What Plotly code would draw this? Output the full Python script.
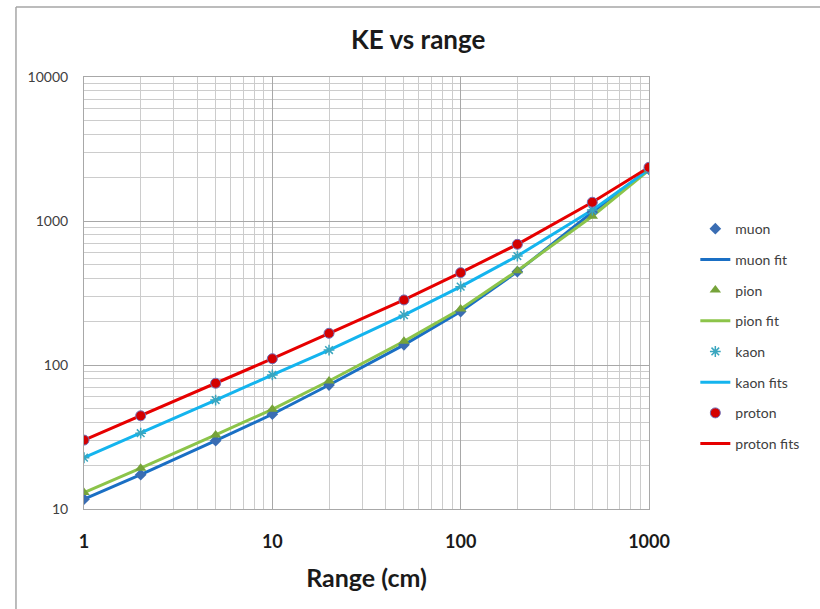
import plotly.graph_objects as go

# Kinetic energy vs range for several particles (log-log)
range_cm = [1, 2, 5, 10, 20, 50, 100, 200, 500, 1000]

muon = [11.7, 17.3, 29.8, 45.5, 72.6, 138, 235, 445, 1150, 2280]
pion = [13.0, 19.2, 32.7, 49.2, 77.4, 146, 245, 452, 1080, 2260]
kaon = [22.7, 33.6, 57.1, 85.3, 127, 222, 350, 571, 1190, 2280]
proton = [30.1, 44.4, 74.7, 110.6, 166, 283, 438, 689, 1350, 2360]

# fitted curves evaluated at the same ranges
muon_fit = muon
pion_fit = pion
kaon_fit = kaon
proton_fit = proton

x_ticks = [1, 10, 100, 1000]
x_ticktext = ["1", "10", "100", "1000"]
y_ticks = [10, 100, 1000, 10000]
y_ticktext = ["10", "100", "1000", "10000"]

FONT = "Lato"

fig = go.Figure()

# fit lines (drawn underneath the markers)
fits = [
    ("muon fit", muon_fit, "#1a6fc4", 2),
    ("pion fit", pion_fit, "#8cc44a", 4),
    ("kaon fits", kaon_fit, "#14b4ee", 6),
    ("proton fits", proton_fit, "#e60000", 8),
]
for name, ys, color, rank in fits:
    fig.add_trace(go.Scatter(
        x=range_cm, y=ys, mode="lines", name=name,
        line=dict(color=color, width=3),
        legendgroup=name, legendrank=rank,
    ))

points = [
    ("muon", muon, dict(symbol="diamond", size=9, color="#3a6db3"), 1),
    ("pion", pion, dict(symbol="triangle-up", size=10, color="#76a33a"), 3),
    ("kaon", kaon, dict(symbol="asterisk-open", size=9, color="#3aa6bf",
                        line=dict(color="#3aa6bf", width=1.5)), 5),
    ("proton", proton, dict(symbol="circle", size=10, color="#d40000",
                            line=dict(color="#7070b8", width=1)), 7),
]
for name, ys, marker, rank in points:
    fig.add_trace(go.Scatter(
        x=range_cm, y=ys, mode="markers", name=name,
        marker=marker, legendgroup=name, legendrank=rank,
    ))

# outer chart frame
fig.add_shape(type="line", xref="paper", yref="paper",
              x0=-0.1204, x1=1.5, y0=1.162, y1=1.162,
              line=dict(color="#a6a6a6", width=1.5))
fig.add_shape(type="line", xref="paper", yref="paper",
              x0=-0.1204, x1=-0.1204, y0=1.162, y1=-0.3,
              line=dict(color="#a6a6a6", width=1.5))

fig.update_layout(
    width=820, height=609,
    margin=dict(l=84, r=171, t=77, b=100),
    paper_bgcolor="white", plot_bgcolor="white",
    font=dict(family=FONT, color="#404040"),
    title=dict(text="KE vs range", x=0.51, xanchor="center",
               y=1 - 40 / 609, yanchor="middle",
               font=dict(family=FONT, size=26, color="#1a1a1a", weight="bold")),
    showlegend=True,
    legend=dict(x=1.082, y=0.685, xanchor="left", yanchor="top",
                font=dict(family=FONT, size=14, color="#404040"),
                tracegroupgap=9.5, traceorder="grouped",
                bgcolor="rgba(0,0,0,0)"),
)

fig.update_xaxes(
    type="log", range=[0, 3],
    tickvals=x_ticks, ticktext=x_ticktext,
    tickfont=dict(family=FONT, size=18, color="#1a1a1a", weight="bold"),
    ticklabelstandoff=16,
    showgrid=True, gridcolor="#a8a8a8", gridwidth=1,
    minor=dict(showgrid=True, gridcolor="#cccccc", gridwidth=1, dtick="D1"),
    showline=True, linecolor="#a8a8a8", mirror=True,
    zeroline=False,
    title=dict(text="Range (cm)", standoff=18,
               font=dict(family=FONT, size=25, color="#1a1a1a", weight="bold")),
)
fig.update_yaxes(
    type="log", range=[1, 4],
    tickvals=y_ticks, ticktext=y_ticktext,
    tickfont=dict(family=FONT, size=14, color="#404040"),
    ticklabelstandoff=12,
    showgrid=True, gridcolor="#a8a8a8", gridwidth=1,
    minor=dict(showgrid=True, gridcolor="#cccccc", gridwidth=1, dtick="D1"),
    showline=True, linecolor="#a8a8a8", mirror=True,
    zeroline=False,
)

fig.write_html("out.html")
